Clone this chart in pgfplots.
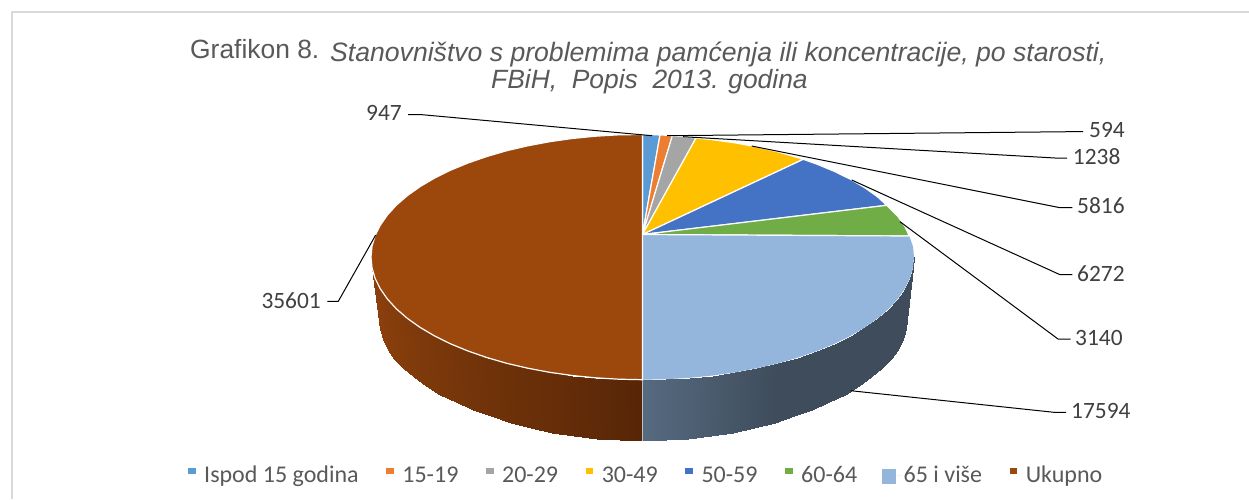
\documentclass[border=0pt]{standalone}
\usepackage{pgfplots}
\usepackage{pgfplotstable}
\pgfplotsset{compat=1.18}
\usepgfplotslibrary{patchplots}
\usepackage{fontspec}
\setmainfont{Carlito}
\newfontfamily\titlefont{Liberation Sans}
\definecolor{lab}{HTML}{404040}
\definecolor{leg}{HTML}{595959}
\definecolor{ttl}{HTML}{595959}
\definecolor{frame}{RGB}{217,217,217}
\definecolor{wa}{RGB}{91,155,213}
\definecolor{wb}{RGB}{237,125,49}
\definecolor{wc}{RGB}{165,165,165}
\definecolor{wd}{RGB}{255,192,0}
\definecolor{we}{RGB}{68,114,196}
\definecolor{wf}{RGB}{112,173,71}
\definecolor{wg}{RGB}{149,182,220}
\definecolor{wh}{RGB}{156,72,13}
\pgfplotsset{
  sq/.style={legend image code/.code={\begin{pgfinterruptboundingbox}\fill[##1,draw=none] (0pt,0pt) rectangle (7.5pt,7.5pt);\end{pgfinterruptboundingbox}\path (0pt,0pt) rectangle (13.5pt,0pt);}},
  bigsq/.style={legend image code/.code={\begin{pgfinterruptboundingbox}\fill[##1,draw=none] (-2pt,-8.5pt) rectangle (12pt,6.5pt);\end{pgfinterruptboundingbox}\path (0pt,0pt) rectangle (17.5pt,0pt);}},
  leader/.style={black,line width=1pt,forget plot,line join=round},
  wedge/.style={fill=#1,draw=white,line width=1.2pt,line join=round},
}
\newcommand{\lbl}[1]{\fontsize{23.4}{27}\selectfont\color{lab}#1}
\begin{document}
\begin{tikzpicture}
\begin{axis}[
  scale only axis,width=1249pt,height=499pt,
  xmin=0,xmax=1249,ymin=0,ymax=499,y dir=reverse,
  hide axis,
  colormap={piesides}{rgb255(0cm)=(87,38,7); rgb255(1cm)=(139,64,12); rgb255(2cm)=(86,106,128); rgb255(3cm)=(62,76,91)},
  point meta min=0,point meta max=3,
  legend columns=8,
  legend cell align=left,
  legend style={at={(axis cs:187.5,475)},anchor=west,draw=none,fill=none,inner sep=0pt,outer sep=0pt,
    font=\fontsize{24}{27}\selectfont\color{leg},
    /tikz/every even column/.append style={column sep=25pt}},
]
% page and frame
\addplot[fill=white,draw=none,forget plot] coordinates {(0,0)(1249,0)(1249,499)(0,499)} --cycle;
\addplot[color=frame,line width=2pt,forget plot] coordinates {(12,499)(12,12)(1249,12)};
% side walls
\addplot[patch,patch type=rectangle,shader=interp,forget plot,
  table/row sep=\\,
  point meta=\thisrow{c},
  patch table={0 1 3 2\\2 3 5 4\\4 5 7 6\\6 7 9 8\\8 9 11 10\\10 11 13 12\\12 13 15 14\\14 15 17 16\\16 17 19 18\\18 19 21 20\\20 21 23 22\\22 23 25 24\\24 25 27 26\\26 27 29 28\\28 29 31 30\\30 31 33 32\\32 33 35 34\\34 35 37 36\\}]
 table[x=x,y=y] {x y c\\
371 257 1\\378.5 318 1\\372 267.7 1\\379.5 328.7 1\\375.1 278.3 .98\\382.5 339.3 .98\\380.3 288.8 .95\\387.5 349.7 .95\\
387.4 299 .9\\394.4 359.4 .9\\396.4 308.9 .85\\403.2 368 .85\\407.4 318.4 .8\\413.9 377 .8\\420.1 327.4 .73\\426.2 386 .73\\
434.5 335.9 .68\\440.3 394.5 .68\\450.5 343.8 .62\\455.8 402.2 .62\\468 351 .55\\472.8 409.5 .55\\486.8 357.5 .48\\491.1 416 .48\\
506.7 363.3 .42\\510.5 422.5 .42\\527.8 368.2 .36\\530.9 428 .36\\549.6 372.3 .3\\552.2 432.5 .3\\572.2 375.5 .23\\574.2 436.3 .23\\
595.4 377.8 .15\\596.7 438.6 .15\\618.8 379.2 .07\\619.5 440 .07\\642.5 379.7 0\\642.5 440.5 0\\};
\addplot[patch,patch type=rectangle,shader=interp,forget plot,
  table/row sep=\\,
  point meta=\thisrow{c},
  patch table={0 1 3 2\\2 3 5 4\\4 5 7 6\\6 7 9 8\\8 9 11 10\\10 11 13 12\\12 13 15 14\\14 15 17 16\\16 17 19 18\\18 19 21 20\\20 21 23 22\\22 23 25 24\\24 25 27 26\\26 27 29 28\\28 29 31 30\\30 31 33 32\\32 33 35 34\\34 35 37 36\\}]
 table[x=x,y=y] {x y c\\
642.5 379.7 2\\642.5 440.5 2\\666.2 379.2 2.17\\665.5 440 2.17\\689.6 377.8 2.33\\688.3 438.6 2.33\\712.8 375.5 2.5\\710.8 436.3 2.5\\
735.4 372.3 2.67\\732.8 432.5 2.67\\757.2 368.2 2.83\\754.1 428 2.83\\778.3 363.3 3\\774.5 422.5 3\\798.2 357.5 3\\793.9 416 3\\
817 351 3\\812.2 409.5 3\\834.5 343.8 3\\829.2 402.2 3\\850.5 335.9 3\\844.7 394.5 3\\864.9 327.4 3\\858.8 386 3\\
877.6 318.4 3\\871.1 377 3\\888.6 308.9 3\\881.8 368 3\\897.6 299 3\\890.6 359.4 3\\904.7 288.8 3\\897.5 349.7 3\\
909.9 278.3 3\\902.5 339.3 3\\913 267.7 3\\905.5 328.7 3\\914 257 3\\906.5 318 3\\};
\addplot[white!75!black,line width=0.9pt,forget plot] coordinates {(642.5,379.7)(642.5,440.5)};
% top face
\addplot[wedge=wa,sq] coordinates {(642.5,234.5)(642.5,134.5)(651,134.5)(660,135)} --cycle;
\addlegendentry{Ispod 15 godina}
\addplot[wedge=wb,sq] coordinates {(642.5,234.5)(660,135)(666.2,135.2)(672.3,135.8)} --cycle;
\addlegendentry{15-19}
\addplot[wedge=wc,sq] coordinates {(642.5,234.5)(672.3,135.8)(684,136.6)(696,138)} --cycle;
\addlegendentry{20-29}
\addplot[wedge=wd,sq] coordinates {(642.5,234.5)(696,138)(712.8,139.7)(735.4,142.9)(757.2,147)(778.3,151.9)(798.2,157.7)(803.3,159.3)} --cycle;
\addlegendentry{30-49}
\addplot[wedge=we,sq] coordinates {(642.5,234.5)(803.3,159.3)(817,164.2)(834.5,171.4)(850.5,179.3)(864.9,187.8)(877.6,196.8)(886.7,205.3)} --cycle;
\addlegendentry{50-59}
\addplot[wedge=wf,sq] coordinates {(642.5,234.5)(886.7,205.3)(897.6,216)(904.7,226.2)(909.3,236)} --cycle;
\addlegendentry{60-64}
\addplot[fill=wg,draw=none,bigsq] coordinates {(642.5,234.5)(909.3,236)(913,246.6)(914,257)(913,267.7)(909.9,278.3)(904.7,288.8)(897.6,299)(888.6,308.9)(877.6,318.4)(864.9,327.4)(850.5,335.9)(834.5,343.8)(817,351)(798.2,357.5)(778.3,363.3)(757.2,368.2)(735.4,372.3)(712.8,375.5)(689.6,377.8)(666.2,379.2)(642.5,379.7)} --cycle;
\addlegendentry{65 i više}
\addplot[wedge=wh,sq] coordinates {(642.5,234.5)(642.5,379.7)(618.8,379.2)(595.4,377.8)(572.2,375.5)(549.6,372.3)(527.8,368.2)(506.7,363.3)(486.8,357.5)(468,351)(450.5,343.8)(434.5,335.9)(420.1,327.4)(407.4,318.4)(396.4,308.9)(387.4,299)(380.3,288.8)(375.1,278.3)(372,267.7)(371,257)(372,246.3)(375.1,235.7)(380.3,225.2)(387.4,215)(396.4,205.1)(407.4,195.6)(420.1,186.6)(434.5,178.1)(450.5,170.2)(468,163)(486.8,156.5)(506.7,150.7)(527.8,145.8)(549.6,141.7)(572.2,138.5)(595.4,136.2)(618.8,134.8)(642.5,134.5)} --cycle;
\addlegendentry{Ukupno}
\addplot[white,line width=1.2pt,forget plot] coordinates {(642.5,234.5)(909.3,236)};
% leader lines
\addplot[leader] coordinates {(408,114.5)(420,114.5)(652,135.7)};
\addplot[leader] coordinates {(667,135.7)(1070,131.7)(1083,131.7)};
\addplot[leader] coordinates {(683,136.7)(1055,158)(1067,158)};
\addplot[leader] coordinates {(751.7,146)(1060,207.7)(1072.3,207.7)};
\addplot[leader] coordinates {(851.7,180)(1060,274.7)(1072.3,274.7)};
\addplot[leader] coordinates {(900,221.7)(1058,339)(1070.7,339)};
\addplot[leader] coordinates {(850.7,390.7)(1054,412.3)(1066,412.3)};
\addplot[leader] coordinates {(327.3,301.3)(338.3,301.3)(375.7,235)};
% data labels
\node[anchor=east,inner sep=0pt] at (axis cs:402,113) {\lbl{947}};
\node[anchor=west,inner sep=0pt] at (axis cs:1089,130) {\lbl{594}};
\node[anchor=west,inner sep=0pt] at (axis cs:1072.7,156.7) {\lbl{1238}};
\node[anchor=west,inner sep=0pt] at (axis cs:1077,206) {\lbl{5816}};
\node[anchor=west,inner sep=0pt] at (axis cs:1077,274) {\lbl{6272}};
\node[anchor=west,inner sep=0pt] at (axis cs:1075,338) {\lbl{3140}};
\node[anchor=west,inner sep=0pt] at (axis cs:1071,411) {\lbl{17594}};
\node[anchor=east,inner sep=0pt] at (axis cs:321,300.7) {\lbl{35601}};
% title
\node[anchor=base west,inner sep=0pt] at (axis cs:190,58) {\titlefont\fontsize{26.4}{30}\selectfont\color{ttl}Grafikon 8.};
\node[anchor=base west,inner sep=0pt] at (axis cs:330,61.7) {\titlefont\itshape\fontsize{26.6}{30}\selectfont\color{ttl}Stanovništvo s problemima pamćenja ili koncentracije, po starosti,};
\node[anchor=base west,inner sep=0pt] at (axis cs:491,88.3) {\titlefont\itshape\fontsize{26.4}{30}\selectfont\color{ttl}FBiH,\ \ Popis\ \ 2013. godina};
\end{axis}
\end{tikzpicture}
\end{document}
